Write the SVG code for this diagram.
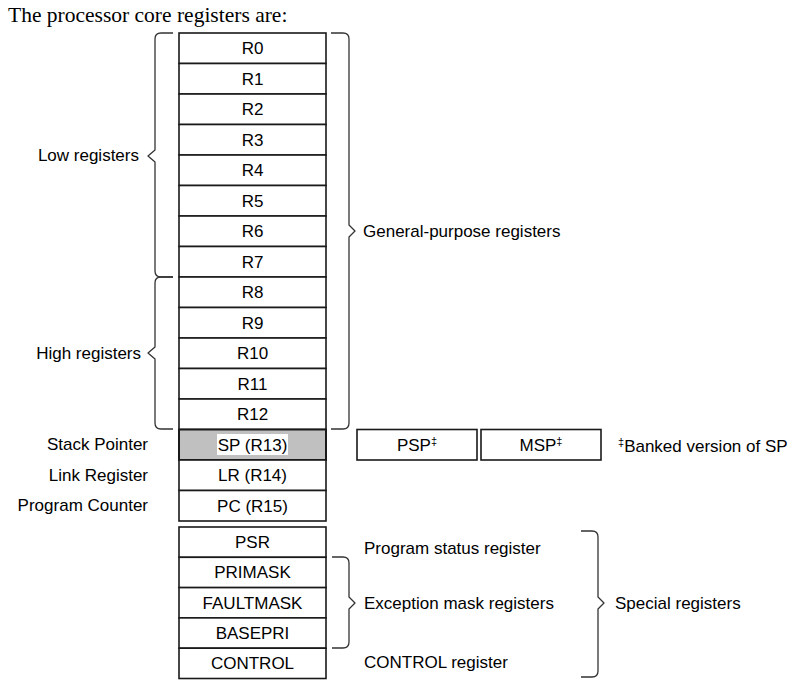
<svg xmlns="http://www.w3.org/2000/svg" width="802" height="699" viewBox="0 0 802 699">
<style>
.box{fill:#fff;stroke:#1a1a1a;stroke-width:1.6}
.sp{fill:#c0c0c0;stroke:#1a1a1a;stroke-width:2}
.t{font-family:"Liberation Sans",Arial,sans-serif;font-size:17px;fill:#000}
.c{text-anchor:middle}
.r{text-anchor:end}
.br{fill:none;stroke:#333;stroke-width:1.3;stroke-linejoin:round}
.sup{font-size:11px}
</style>
<rect width="802" height="699" fill="#fff"/>
<text x="8" y="22" font-family="'Liberation Serif','Times New Roman',serif" font-size="21.5" fill="#000">The processor core registers are:</text>

<g id="R0"><rect class="box" x="179" y="33" width="147" height="30.5"/><text class="t c" x="252.5" y="54">R0</text></g>
<g id="R1"><rect class="box" x="179" y="63.5" width="147" height="30.5"/><text class="t c" x="252.5" y="84.5">R1</text></g>
<g id="R2"><rect class="box" x="179" y="94" width="147" height="30.5"/><text class="t c" x="252.5" y="115">R2</text></g>
<g id="R3"><rect class="box" x="179" y="124.5" width="147" height="30.5"/><text class="t c" x="252.5" y="145.5">R3</text></g>
<g id="R4"><rect class="box" x="179" y="155" width="147" height="30.5"/><text class="t c" x="252.5" y="176">R4</text></g>
<g id="R5"><rect class="box" x="179" y="185.5" width="147" height="30.5"/><text class="t c" x="252.5" y="206.5">R5</text></g>
<g id="R6"><rect class="box" x="179" y="216" width="147" height="30.5"/><text class="t c" x="252.5" y="237">R6</text></g>
<g id="R7"><rect class="box" x="179" y="246.5" width="147" height="30.5"/><text class="t c" x="252.5" y="267.5">R7</text></g>
<g id="R8"><rect class="box" x="179" y="277" width="147" height="30.5"/><text class="t c" x="252.5" y="298">R8</text></g>
<g id="R9"><rect class="box" x="179" y="307.5" width="147" height="30.5"/><text class="t c" x="252.5" y="328.5">R9</text></g>
<g id="R10"><rect class="box" x="179" y="338" width="147" height="30.5"/><text class="t c" x="252.5" y="359">R10</text></g>
<g id="R11"><rect class="box" x="179" y="368.5" width="147" height="30.5"/><text class="t c" x="252.5" y="389.5">R11</text></g>
<g id="R12"><rect class="box" x="179" y="399" width="147" height="30.5"/><text class="t c" x="252.5" y="420">R12</text></g>
<g id="SP"><rect class="sp" x="179" y="429.5" width="147" height="30.5"/><rect x="217" y="434" width="71" height="21" fill="#fff"/><text class="t c" x="252.5" y="450.5">SP (R13)</text></g>
<g id="LR"><rect class="box" x="179" y="460" width="147" height="30.5"/><text class="t c" x="252.5" y="481">LR (R14)</text></g>
<g id="PC"><rect class="box" x="179" y="490.5" width="147" height="30.5"/><text class="t c" x="252.5" y="511.5">PC (R15)</text></g>

<g id="PSR"><rect class="box" x="179" y="527" width="147" height="30.3"/><text class="t c" x="252.5" y="548">PSR</text></g>
<g id="PRIMASK"><rect class="box" x="179" y="557.3" width="147" height="30.3"/><text class="t c" x="252.5" y="578.3">PRIMASK</text></g>
<g id="FAULTMASK"><rect class="box" x="179" y="587.6" width="147" height="30.3"/><text class="t c" x="252.5" y="608.6">FAULTMASK</text></g>
<g id="BASEPRI"><rect class="box" x="179" y="617.9" width="147" height="30.3"/><text class="t c" x="252.5" y="638.9">BASEPRI</text></g>
<g id="CONTROL"><rect class="box" x="179" y="648.2" width="147" height="30.3"/><text class="t c" x="252.5" y="669.2">CONTROL</text></g>

<g id="PSP"><rect class="box" x="357" y="429.5" width="120" height="30.5"/><text class="t c" x="417" y="450.5">PSP<tspan class="sup" dy="-6">‡</tspan></text></g>
<g id="MSP"><rect class="box" x="481" y="429.5" width="120" height="30.5"/><text class="t c" x="541" y="450.5">MSP<tspan class="sup" dy="-6">‡</tspan></text></g>
<g id="note"><text class="t" x="618" y="452"><tspan class="sup" dy="-6">‡</tspan><tspan dy="6">Banked version of SP</tspan></text></g>

<g id="labels">
<text class="t r" x="139" y="161">Low registers</text>
<text class="t r" x="141" y="359">High registers</text>
<text class="t r" x="148" y="450">Stack Pointer</text>
<text class="t r" x="148" y="480.5">Link Register</text>
<text class="t r" x="148" y="511">Program Counter</text>
<text class="t" x="363" y="237">General-purpose registers</text>
<text class="t" x="364" y="554">Program status register</text>
<text class="t" x="364" y="609">Exception mask registers</text>
<text class="t" x="364" y="668">CONTROL register</text>
<text class="t" x="615" y="609">Special registers</text>
</g>

<g id="connectors">
<path class="br" d="M173,33 H161 Q155,33 155,39 V150 L148,156 L155,162 V271 Q155,277 161,277 H173"/>
<path class="br" d="M173,277 H161 Q155,277 155,283 V347 L148,353 L155,359 V423 Q155,429 161,429 H173"/>
<path class="br" d="M331,33 H343 Q349,33 349,39 V225 L355,231 L349,237 V423 Q349,429 343,429 H331"/>
<path class="br" d="M332,557 H343 Q349,557 349,563 V597 L355,603 L349,609 V642 Q349,648 343,648 H332"/>
<path class="br" d="M581,531 H592 Q598,531 598,537 V597 L604,603 L598,609 V671 Q598,677 592,677 H581"/>
</g>
</svg>
